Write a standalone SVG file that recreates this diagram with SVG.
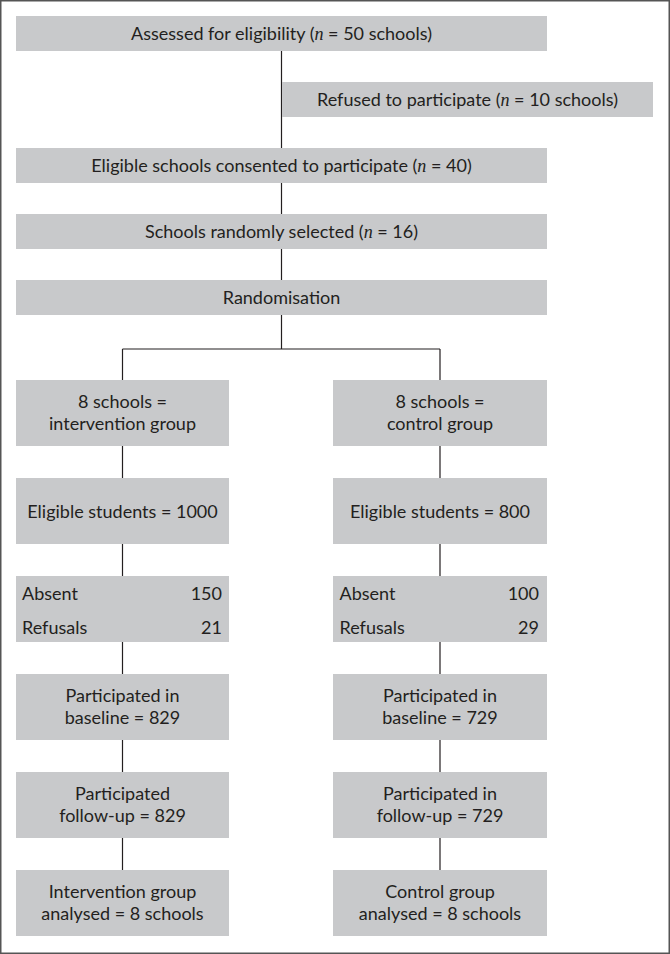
<svg xmlns="http://www.w3.org/2000/svg" width="670" height="954" viewBox="0 0 670 954">
<style>
.box{fill:#c8c9cb;}
.t{font-family:Lato,"Liberation Sans",sans-serif;font-size:18px;fill:#231f20;}
.m{text-anchor:middle;}
.e{text-anchor:end;}
.n{font-family:"Liberation Serif",serif;font-style:italic;}
.c{stroke:#231f20;stroke-width:1.2;fill:none;}
</style>
<rect x="0.75" y="0.75" width="668.5" height="952.5" fill="#fff" stroke="#555" stroke-width="1.5"/>
<g id="connectors">
<path class="c" d="M281.5 51V148M281.5 183V214M281.5 249V280M281.5 315V349M122.5 349H440M122.5 349V380M440 349V380M122.5 446V478M440 446V478M122.5 544V576M440 544V576M122.5 642V674M440 642V674M122.5 740V772M440 740V772M122.5 838V870M440 838V870"/>
</g>
<g id="assessed"><rect class="box" x="16" y="16" width="531" height="35"/><text class="t m" x="281.5" y="39.5">Assessed for eligibility (<tspan class="n">n</tspan> = 50 schools)</text></g>
<g id="refused"><rect class="box" x="282" y="82" width="371" height="35"/><text class="t m" x="467.5" y="105.5">Refused to participate (<tspan class="n">n</tspan> = 10 schools)</text></g>
<g id="consented"><rect class="box" x="16" y="148" width="531" height="35"/><text class="t m" x="281.5" y="171.5">Eligible schools consented to participate (<tspan class="n">n</tspan> = 40)</text></g>
<g id="selected"><rect class="box" x="16" y="214" width="531" height="35"/><text class="t m" x="281.5" y="237.5">Schools randomly selected (<tspan class="n">n</tspan> = 16)</text></g>
<g id="randomisation"><rect class="box" x="16" y="280" width="531" height="35"/><text class="t m" x="281.5" y="303.5">Randomisation</text></g>
<g id="int-group"><rect class="box" x="16" y="380" width="213" height="66"/><text class="t m" x="122.5" y="407.5">8 schools =</text><text class="t m" x="122.5" y="429.5">intervention group</text></g>
<g id="ctl-group"><rect class="box" x="333" y="380" width="214" height="66"/><text class="t m" x="440" y="407.5">8 schools =</text><text class="t m" x="440" y="429.5">control group</text></g>
<g id="int-eligible"><rect class="box" x="16" y="478" width="213" height="66"/><text class="t m" x="122.5" y="517.5">Eligible students = 1000</text></g>
<g id="ctl-eligible"><rect class="box" x="333" y="478" width="214" height="66"/><text class="t m" x="440" y="517.5">Eligible students = 800</text></g>
<g id="int-excluded"><rect class="box" x="16" y="576" width="213" height="66"/><text class="t" x="22" y="599.5">Absent</text><text class="t e" x="222" y="599.5">150</text><text class="t" x="22" y="633.5">Refusals</text><text class="t e" x="222" y="633.5">21</text></g>
<g id="ctl-excluded"><rect class="box" x="333" y="576" width="214" height="66"/><text class="t" x="339.5" y="599.5">Absent</text><text class="t e" x="539" y="599.5">100</text><text class="t" x="339.5" y="633.5">Refusals</text><text class="t e" x="539" y="633.5">29</text></g>
<g id="int-baseline"><rect class="box" x="16" y="674" width="213" height="66"/><text class="t m" x="122.5" y="701.5">Participated in</text><text class="t m" x="122.5" y="723.5">baseline = 829</text></g>
<g id="ctl-baseline"><rect class="box" x="333" y="674" width="214" height="66"/><text class="t m" x="440" y="701.5">Participated in</text><text class="t m" x="440" y="723.5">baseline = 729</text></g>
<g id="int-followup"><rect class="box" x="16" y="772" width="213" height="66"/><text class="t m" x="122.5" y="799.5">Participated</text><text class="t m" x="122.5" y="821.5">follow-up = 829</text></g>
<g id="ctl-followup"><rect class="box" x="333" y="772" width="214" height="66"/><text class="t m" x="440" y="799.5">Participated in</text><text class="t m" x="440" y="821.5">follow-up = 729</text></g>
<g id="int-analysed"><rect class="box" x="16" y="870" width="213" height="66"/><text class="t m" x="122.5" y="897.5">Intervention group</text><text class="t m" x="122.5" y="919.5">analysed = 8 schools</text></g>
<g id="ctl-analysed"><rect class="box" x="333" y="870" width="214" height="66"/><text class="t m" x="440" y="897.5">Control group</text><text class="t m" x="440" y="919.5">analysed = 8 schools</text></g>
</svg>
